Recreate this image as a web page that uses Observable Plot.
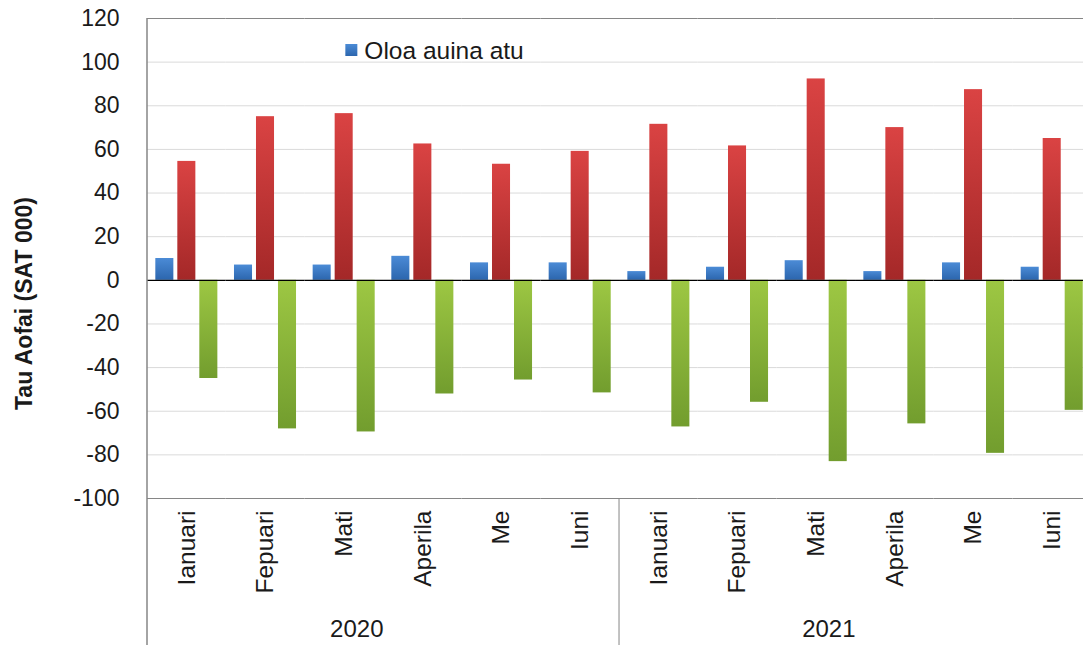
<!DOCTYPE html>
<html><head><meta charset="utf-8">
<script src="https://cdn.jsdelivr.net/npm/d3@7"></script>
<script src="https://cdn.jsdelivr.net/npm/@observablehq/plot@0.6"></script>
<style>
html,body{margin:0;padding:0;background:#fff;overflow:hidden;}
#chart{position:relative;width:1083px;height:645px;}
</style>
</head><body><div id="chart"></div>
<script>
const years = ["2020", "2021"];
const months = ["Ianuari", "Fepuari", "Mati", "Aperila", "Me", "Iuni"];
const seriesNames = ["Oloa auina atu", "Oloa faaulufale mai", "Paleni o fefaatauaiga"];
const exportsValues = [10, 7, 7, 11, 8, 8, 4, 6, 9, 4, 8, 6];
const importsValues = [54.5, 75, 76.4, 62.5, 53.2, 59.1, 71.5, 61.6, 92.3, 70, 87.4, 65];
const balanceValues = [-45, -68.1, -69.5, -52.1, -45.7, -51.6, -67.2, -55.9, -83.1, -65.8, -79.3, -59.6];
const yTicks = [-100, -80, -60, -40, -20, 0, 20, 40, 60, 80, 100, 120];
const yTitle = "Tau Aofai (SAT 000)";
const legendLabel = seriesNames[0];

const keys = [];
const rows = [];
years.forEach((yr, i) => months.forEach((m, j) => {
  const k = yr + "|" + m;
  keys.push(k);
  const idx = i * months.length + j;
  [exportsValues, importsValues, balanceValues].forEach((arr, s) =>
    rows.push({key: k, year: yr, month: m, series: seriesNames[s], value: arr[idx]}));
}));

const gradIds = ["gBlue", "gRed", "gGreen"];
const gradStops = [["#4b8bd6", "#2c66ae"], ["#da4343", "#a42828"], ["#9dc743", "#729d2e"]];
const isFirst = d => d.series === seriesNames[0];

const chart = Plot.plot({
  width: 1083, height: 645,
  marginTop: 18, marginBottom: 147, marginLeft: 147, marginRight: 0,
  style: {fontFamily: "'Liberation Sans', Arial, sans-serif", fontSize: "23px", color: "#1a1a1a", background: "#fff"},
  facet: {data: rows, x: "key"},
  fx: {domain: keys, range: [147, 147 + 12 * 78.67], padding: 0, round: false, axis: "bottom", label: null,
       tickSize: 0, tickPadding: 12, tickRotate: -90, tickFormat: k => k.split("|")[1]},
  x: {domain: seriesNames, paddingInner: 0.18, paddingOuter: 0.378, round: false, axis: null},
  y: {domain: [-100, 120], ticks: yTicks, tickSize: 0, tickPadding: 28, tickFormat: d => String(d), label: null},
  color: {domain: seriesNames, range: gradIds.map(id => `url(#${id})`)},
  marks: [
    Plot.ruleY(yTicks.filter(t => t !== 0 && t !== -100 && t !== 120), {stroke: "#dadada", strokeWidth: 1}),
    Plot.ruleY([120, -100], {stroke: "#868686", strokeWidth: 1}),
    Plot.barY(rows, {x: "series", y: "value", fill: "series"}),
    Plot.ruleY([0], {stroke: "#000", strokeWidth: 1.3}),
    Plot.text(rows, {filter: d => isFirst(d) && d.month === "Mati", frameAnchor: "bottom-right", dy: 138, text: "year", fontSize: 24}),
    Plot.text(rows, {filter: d => isFirst(d) && d.key === keys[0], frameAnchor: "left", textAnchor: "middle", dx: -123, dy: 45,
      rotate: -90, text: () => yTitle, fontWeight: "bold"})
  ]
});

const svg = d3.select(chart);
svg.selectAll("text").filter(function () { return months.includes(this.textContent.trim()); })
  .style("font-size", "24.5px");
const defs = svg.insert("defs", ":first-child");
gradIds.forEach((id, i) => {
  const g = defs.append("linearGradient").attr("id", id).attr("x1", 0).attr("y1", 0).attr("x2", 0).attr("y2", 1);
  g.append("stop").attr("offset", "0%").attr("stop-color", gradStops[i][0]);
  g.append("stop").attr("offset", "100%").attr("stop-color", gradStops[i][1]);
});

const fxs = chart.scale("fx");
const fxPos = k => fxs.apply ? fxs.apply(k) : fxs.range[0] + keys.indexOf(k) * 78.67;
const yTop = 18, yBase = 498, yEnd = 645;
svg.append("line").attr("x1", fxPos(keys[0])).attr("x2", fxPos(keys[0])).attr("y1", yTop).attr("y2", yEnd)
  .attr("stroke", "#868686").attr("stroke-width", 1.5);
svg.append("line").attr("x1", fxPos(keys[6])).attr("x2", fxPos(keys[6])).attr("y1", yBase).attr("y2", yEnd)
  .attr("stroke", "#868686").attr("stroke-width", 1);

const lg = svg.append("g").attr("transform", `translate(${fxPos(keys[2]) + 41},50)`);
lg.append("rect").attr("x", 0).attr("y", -6).attr("width", 12).attr("height", 12).attr("fill", "url(#gBlue)");
lg.append("text").attr("x", 19).attr("y", 0).attr("dy", "0.35em").attr("text-anchor", "start")
  .style("font-size", "24.5px").attr("fill", "#1a1a1a").text(legendLabel);

document.getElementById("chart").appendChild(chart);
</script>
</body></html>
